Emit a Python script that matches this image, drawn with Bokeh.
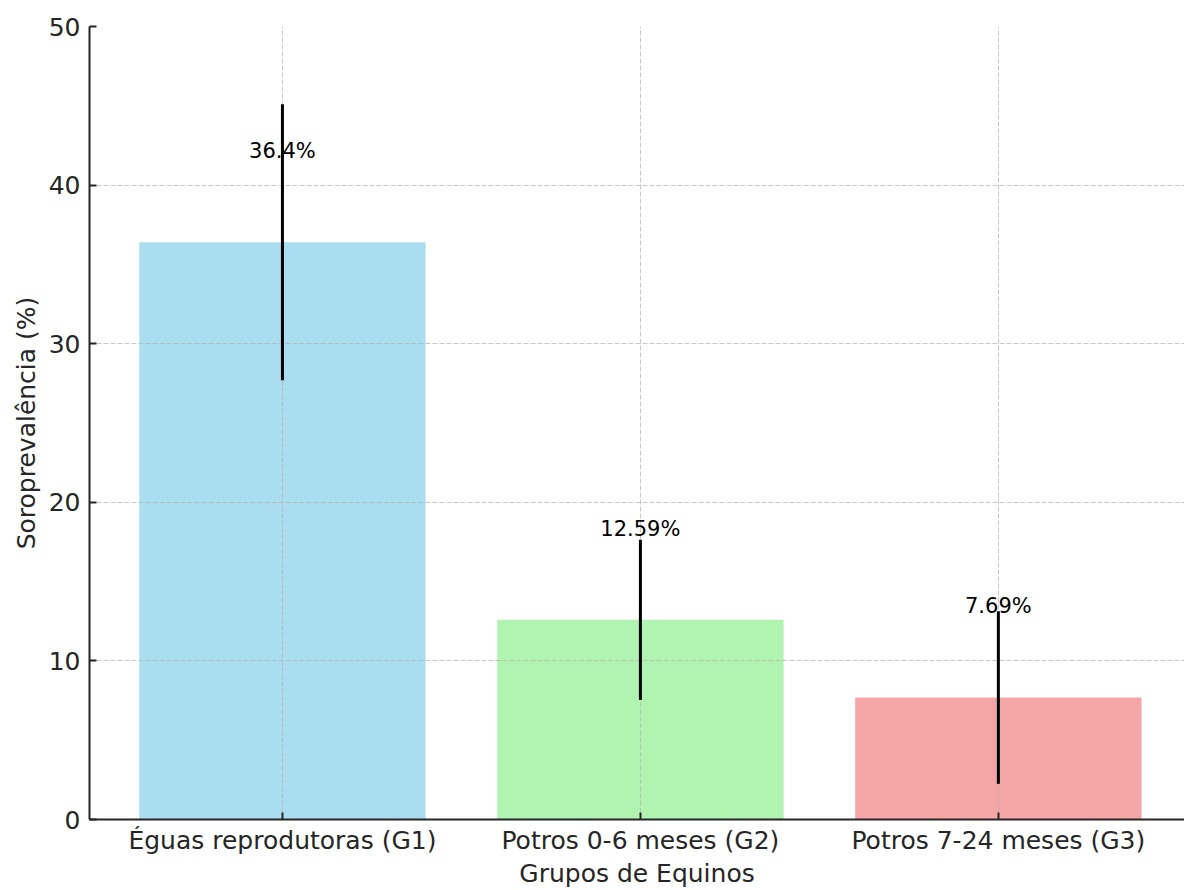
from bokeh.plotting import figure
from bokeh.models import Range1d, FixedTicker, ColumnDataSource
from bokeh.embed import file_html
from bokeh.resources import INLINE
from bokeh.core.properties import value

categories = ["Éguas reprodutoras (G1)", "Potros 0-6 meses (G2)", "Potros 7-24 meses (G3)"]
prevalence = [36.4, 12.59, 7.69]
error = [8.7, 5.05, 5.44]
colors = ["#87CEEB", "#90EE90", "#F08080"]
y_ticks = [0, 10, 20, 30, 40, 50]

xs = list(range(len(categories)))
src = ColumnDataSource(dict(
    x=xs,
    top=prevalence,
    color=colors,
    lo=[v - e for v, e in zip(prevalence, error)],
    hi=[v + e for v, e in zip(prevalence, error)],
    ly=[v + 5 for v in prevalence],
    label=[f"{v}%" for v in prevalence],
))

FONT = "DejaVu Sans"
p = figure(width=1184, height=890, output_backend="svg", toolbar_location=None,
           x_range=Range1d(-0.539, 2.52), y_range=Range1d(0, 50),
           min_border_left=89, min_border_right=0, min_border_top=26, min_border_bottom=70)
p.outline_line_color = None

bars = p.vbar(x="x", top="top", width=0.8, source=src, fill_color="color",
              fill_alpha=0.7, line_color=None)
bars.level = "underlay"

err = p.segment(x0="x", y0="lo", x1="x", y1="hi", source=src, line_color="black", line_width=3)
err.level = "annotation"
txt = p.text(x="x", y="ly", text="label", source=src, text_align="center", text_baseline="bottom",
             text_font=value(FONT), text_font_size="21px", text_color="black")
txt.level = "annotation"

p.xaxis.ticker = FixedTicker(ticks=xs)
p.xaxis.major_label_overrides = {i: c for i, c in zip(xs, categories)}
p.yaxis.ticker = FixedTicker(ticks=y_ticks)
p.xaxis.axis_label = "Grupos de Equinos"
p.yaxis.axis_label = "Soroprevalência (%)"

for ax in (p.xaxis[0], p.yaxis[0]):
    ax.axis_line_color = "#262626"
    ax.axis_line_width = 2
    ax.major_tick_line_color = "#262626"
    ax.major_tick_line_width = 2
    ax.major_tick_in = 7
    ax.major_tick_out = 0
    ax.minor_tick_line_color = None
    ax.major_label_text_font = FONT
    ax.major_label_text_font_size = "25px"
    ax.major_label_text_color = "#262626"
    ax.axis_label_text_font = FONT
    ax.axis_label_text_font_size = "25px"
    ax.axis_label_text_font_style = "normal"
    ax.axis_label_text_color = "#262626"

p.xaxis.major_label_standoff = 6
p.xaxis.axis_label_standoff = 1
p.yaxis.major_label_standoff = 9
p.yaxis.axis_label_standoff = 5

for g in (p.xgrid[0], p.ygrid[0]):
    g.grid_line_color = "#b0b0b0"
    g.grid_line_alpha = 0.7
    g.grid_line_dash = "5 2"
    g.grid_line_width = 1
    g.level = "glyph"
p.xgrid.ticker = FixedTicker(ticks=xs)
p.ygrid.ticker = FixedTicker(ticks=y_ticks)

open("out.html", "w").write(file_html(p, INLINE))
